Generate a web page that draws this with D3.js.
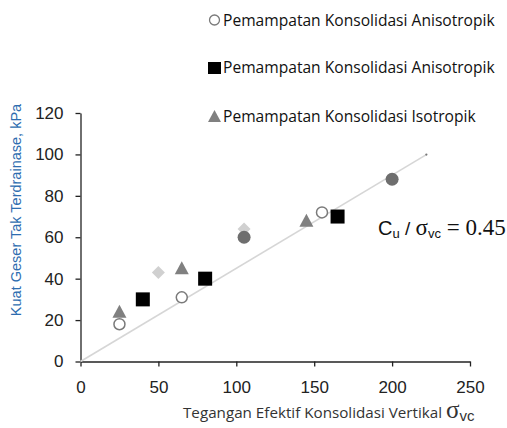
<!DOCTYPE html>
<html>
<head>
<meta charset="utf-8">
<script src="https://cdn.jsdelivr.net/npm/d3@7"></script>
<style>
  body { margin: 0; background: #fff; }
  svg { display: block; }
</style>
</head>
<body>
<svg id="chart" width="507" height="428"></svg>
<script>
// data
var openCircleX = [25, 65, 155];
var openCircleY = [18, 31, 72];
var squareX = [40, 80, 165];
var squareY = [30, 40, 70];
var triangleX = [25, 65, 145];
var triangleY = [24, 45, 68];
var diamondX = [50, 105];
var diamondY = [43, 64];
var dotX = [105, 200];
var dotY = [60, 88];

var ratio = 0.45;
var trendEndX = 222;

var xTicks = [0, 50, 100, 150, 200, 250];
var yTicks = [0, 20, 40, 60, 80, 100, 120];

var legendLabels = [
    'Pemampatan Konsolidasi Anisotropik',
    'Pemampatan Konsolidasi Anisotropik',
    'Pemampatan Konsolidasi Isotropik'
];

var svg = d3.select('#chart');

var x = d3.scaleLinear().domain([0, 250]).range([80.5, 470]);
var y = d3.scaleLinear().domain([0, 120]).range([361.5, 113]);

var sans = '"Liberation Sans", Arial, sans-serif';
var serif = '"Liberation Serif", "Times New Roman", serif';

function zip(xs, ys) {
    return xs.map(function (d, i) { return {x: d, y: ys[i]}; });
}

// axes
var yAxis = svg.append('g')
    .attr('transform', 'translate(' + x(0) + ',0)')
    .call(d3.axisLeft(y).tickValues(yTicks).tickSize(5).tickSizeOuter(0).tickPadding(12));
var xAxis = svg.append('g')
    .attr('transform', 'translate(0,' + y(0) + ')')
    .call(d3.axisBottom(x).tickValues(xTicks).tickSize(5).tickSizeOuter(0).tickPadding(14));

[xAxis, yAxis].forEach(function (g) {
    g.select('.domain').attr('stroke', '#222').attr('stroke-width', 1.3);
    g.selectAll('.tick line').attr('stroke', '#222').attr('stroke-width', 1.3);
    g.selectAll('.tick text')
        .attr('fill', '#222')
        .style('font-family', sans)
        .style('font-size', '17px');
});

// trend line Cu = 0.45 sigma
svg.append('line')
    .attr('x1', x(0)).attr('y1', y(0))
    .attr('x2', x(trendEndX)).attr('y2', y(trendEndX * ratio))
    .attr('stroke', '#d6d6d6')
    .attr('stroke-width', 1.6);
svg.append('circle')
    .attr('cx', x(trendEndX)).attr('cy', y(trendEndX * ratio))
    .attr('r', 1.1)
    .attr('fill', '#777');

// markers
svg.selectAll('.diamond')
    .data(zip(diamondX, diamondY))
    .enter().append('path')
    .classed('diamond', true)
    .attr('transform', function (d) { return 'translate(' + x(d.x) + ',' + y(d.y) + ')'; })
    .attr('d', 'M0,-6.5 L6.5,0 L0,6.5 L-6.5,0 Z')
    .attr('fill', '#d0d0d0');

svg.selectAll('.dot')
    .data(zip(dotX, dotY))
    .enter().append('circle')
    .classed('dot', true)
    .attr('cx', function (d) { return x(d.x); })
    .attr('cy', function (d) { return y(d.y); })
    .attr('r', 6.5)
    .attr('fill', '#6e6e6e');

svg.selectAll('.tri')
    .data(zip(triangleX, triangleY))
    .enter().append('path')
    .classed('tri', true)
    .attr('transform', function (d) { return 'translate(' + x(d.x) + ',' + y(d.y) + ')'; })
    .attr('d', 'M0,-7 L7,6 L-7,6 Z')
    .attr('fill', '#808080');

svg.selectAll('.sq')
    .data(zip(squareX, squareY))
    .enter().append('rect')
    .classed('sq', true)
    .attr('x', function (d) { return x(d.x) - 7; })
    .attr('y', function (d) { return y(d.y) - 7; })
    .attr('width', 14)
    .attr('height', 14)
    .attr('fill', '#000');

svg.selectAll('.ring')
    .data(zip(openCircleX, openCircleY))
    .enter().append('circle')
    .classed('ring', true)
    .attr('cx', function (d) { return x(d.x); })
    .attr('cy', function (d) { return y(d.y); })
    .attr('r', 5.5)
    .attr('fill', '#fff')
    .attr('stroke', '#7a7a7a')
    .attr('stroke-width', 1.5);

// legend
var legendY = [26, 73, 122];
var legend = svg.selectAll('.legend')
    .data(legendLabels)
    .enter().append('g')
    .classed('legend', true)
    .attr('transform', function (d, i) { return 'translate(208,' + legendY[i] + ')'; });

legend.append('text')
    .attr('x', 15)
    .attr('y', 0)
    .attr('fill', '#111')
    .style('font-family', '"Open Sans", sans-serif')
    .style('font-size', '15.6px')
    .text(function (d) { return d; });

legend.filter(function (d, i) { return i === 0; }).append('circle')
    .attr('cx', 6.5).attr('cy', -6).attr('r', 5)
    .attr('fill', '#fff').attr('stroke', '#7a7a7a').attr('stroke-width', 1.3);
legend.filter(function (d, i) { return i === 1; }).append('rect')
    .attr('x', 0).attr('y', -11).attr('width', 13).attr('height', 12)
    .attr('fill', '#000');
legend.filter(function (d, i) { return i === 2; }).append('path')
    .attr('d', 'M6.5,-12 L13,0 L0,0 Z')
    .attr('fill', '#808080');

// axis titles
svg.append('text')
    .attr('transform', 'translate(21,210) rotate(-90)')
    .attr('text-anchor', 'middle')
    .attr('fill', '#2e6db0')
    .style('font-family', sans)
    .style('font-size', '14.5px')
    .text('Kuat Geser Tak Terdrainase, kPa');

var xTitle = svg.append('text')
    .attr('x', 183)
    .attr('y', 418)
    .attr('fill', '#333')
    .style('font-family', '"Open Sans", sans-serif')
    .style('font-size', '15.2px');
xTitle.append('tspan').text('Tegangan Efektif Konsolidasi Vertikal ');
xTitle.append('tspan')
    .style('font-family', serif)
    .style('font-size', '25px')
    .text('σ');
xTitle.append('tspan')
    .attr('dy', 3)
    .style('font-family', sans)
    .style('font-size', '15px')
    .text('vc');

// annotation
var note = svg.append('text')
    .attr('x', 378)
    .attr('y', 235)
    .attr('fill', '#111');
note.append('tspan').style('font-family', sans).style('font-size', '20px').text('C');
note.append('tspan').attr('dy', 3).style('font-family', sans).style('font-size', '13px').text('u');
note.append('tspan').attr('dy', -3).style('font-family', sans).style('font-size', '19px').text(' / ');
note.append('tspan').style('font-family', serif).style('font-size', '23px').text('σ');
note.append('tspan').attr('dy', 3).style('font-family', sans).style('font-size', '13px').text('vc');
note.append('tspan').attr('dy', -3).style('font-family', serif).style('font-size', '23px').text(' = 0.45');
</script>
</body>
</html>
